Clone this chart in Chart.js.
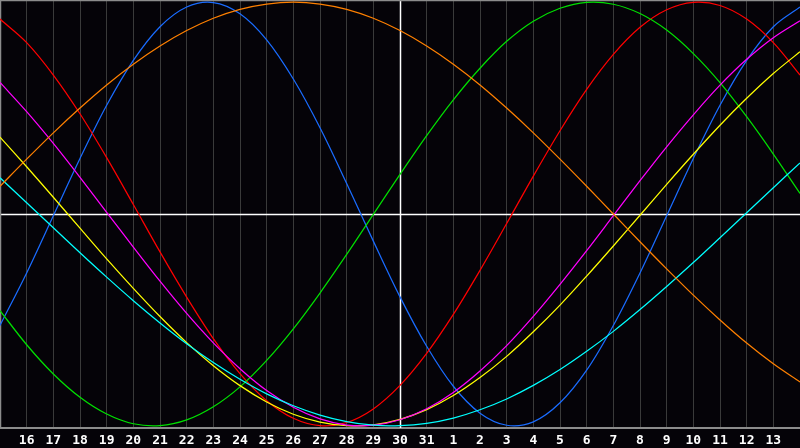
<!DOCTYPE html>
<html>
<head>
<meta charset="utf-8">
<script src="https://cdn.jsdelivr.net/npm/chart.js@4/dist/chart.umd.min.js"></script>
<style>
  html, body { margin: 0; padding: 0; background: #050308; }
  #wrap { width: 800px; height: 448px; }
</style>
</head>
<body>
<div id="wrap"><canvas id="myChart" width="800" height="448"></canvas></div>
<script>
// day labels (first and last points sit on the frame edges, no label)
var dias = ['', '16','17','18','19','20','21','22','23','24','25','26','27','28','29','30','31',
            '1','2','3','4','5','6','7','8','9','10','11','12','13', ''];

// values, -100..100
var fisico      = [-52.6,-27.8,-0.8,26.2,51.3,72.5,88.4,97.7,99.8,94.5,82.2,63.7,40.7,14.4,-12.8,-39.1,-62.4,-81.3,-94.0,-99.7,-98.1,-89.1,-73.7,-52.6,-27.8,-0.8,26.2,51.3,72.5,88.4,97.7];
var emocional   = [92.0,80.9,65.6,47.3,26.6,4.5,-17.9,-39.2,-58.8,-75.3,-88.1,-96.4,-99.9,-98.4,-92.0,-80.9,-65.8,-47.4,-26.6,-4.5,17.9,39.3,58.8,75.3,88.1,96.4,99.9,98.4,92.0,80.9,65.6];
var intelectual = [-45.6,-61.7,-75.5,-86.5,-94.4,-99.0,-99.9,-97.2,-91.0,-81.6,-69.1,-54.2,-37.3,-19.1,-0.2,18.7,37.0,53.9,68.8,81.5,91.0,97.1,99.9,99.0,94.6,86.8,75.7,62.0,45.9,28.3,9.7];
var intuitivo   = [62.1,48.3,33.3,17.3,0.8,-15.6,-31.7,-46.9,-60.8,-73.0,-83.3,-91.2,-96.7,-99.6,-99.7,-97.1,-91.9,-84.2,-74.1,-62.1,-48.3,-33.2,-17.3,-0.8,15.7,31.7,46.8,60.8,73.0,83.2,91.2];
var estetico    = [36.3,22.3,7.9,-6.7,-21.2,-35.1,-48.4,-60.7,-71.6,-81.0,-88.7,-94.5,-98.2,-99.9,-99.5,-96.9,-92.3,-85.7,-77.2,-67.2,-55.6,-43.0,-29.3,-15.1,-0.6,14.0,28.2,41.9,54.6,66.3,76.6];
var conciencia  = [13.1,25.9,38.3,50.0,60.9,70.7,79.3,86.6,92.4,96.6,99.1,100,99.1,96.6,92.4,86.6,79.3,70.7,60.9,50.0,38.3,25.9,13.1,0,-13.1,-25.9,-38.3,-50.0,-60.9,-70.7,-79.3];
var espiritual  = [17.1,5.3,-6.5,-18.3,-29.8,-40.9,-51.4,-61.2,-70.1,-78.0,-84.9,-90.5,-94.9,-98.0,-99.7,-99.9,-98.8,-96.3,-92.4,-87.3,-80.9,-73.4,-64.8,-55.4,-45.1,-34.2,-22.9,-11.2,0.6,12.4,24.1];

var HOY = 15; // index of "30"

var fondo = {
  id: 'fondo',
  beforeDraw: function(chart) {
    var ctx = chart.ctx;
    ctx.save();
    ctx.fillStyle = '#050308';
    ctx.fillRect(0, 0, chart.width, chart.height);
    ctx.restore();
  },
  beforeDatasetsDraw: function(chart) {
    var ctx = chart.ctx, a = chart.chartArea;
    var x = Math.round(chart.scales.x.getPixelForValue(HOY)) + 0.5;
    var y = Math.round(chart.scales.y.getPixelForValue(0)) + 0.5;
    ctx.save();
    ctx.strokeStyle = '#ffffff';
    ctx.lineWidth = 1.5;
    ctx.beginPath();
    ctx.moveTo(a.left, y); ctx.lineTo(a.right, y);
    ctx.moveTo(x, a.top); ctx.lineTo(x, a.bottom);
    ctx.stroke();
    ctx.strokeStyle = '#8c8c8c';
    ctx.lineWidth = 1.5;
    ctx.beginPath();
    ctx.moveTo(0.5, a.bottom); ctx.lineTo(0.5, 0.5); ctx.lineTo(a.right, 0.5);
    ctx.stroke();
    ctx.restore();
  }
};

function serie(datos, color) {
  return {
    data: datos,
    borderColor: color,
    borderWidth: 1.25,
    pointRadius: 0,
    pointHoverRadius: 0,
    tension: 0.33,
    fill: false
  };
}

var grafico = new Chart(document.getElementById('myChart').getContext('2d'), {
  type: 'line',
  data: {
    labels: dias,
    datasets: [
      serie(conciencia, '#ff8000'),
      serie(espiritual, '#00ffff'),
      serie(intuitivo, '#ff00ff'),
      serie(estetico, '#ffff00'),
      serie(intelectual, '#00e000'),
      serie(emocional, '#ff0000'),
      serie(fisico, '#1a6cff')
    ]
  },
  options: {
    responsive: false,
    animation: false,
    layout: { padding: 0, autoPadding: false },
    plugins: { legend: { display: false }, tooltip: { enabled: false } },
    scales: {
      x: {
        offset: false,
        afterFit: function(scale) { scale.height = 20; scale.paddingLeft = 0; scale.paddingRight = 0; },
        grid: { color: '#3a3a3a', lineWidth: 1, drawTicks: false },
        border: { color: '#8c8c8c', width: 2 },
        ticks: {
          color: '#ffffff',
          autoSkip: false,
          maxRotation: 0,
          padding: 5,
          font: { family: 'DejaVu Sans Mono', weight: 'bold', size: 13 }
        }
      },
      y: {
        display: false,
        min: -101,
        max: 101
      }
    }
  },
  plugins: [fondo]
});
</script>
</body>
</html>
